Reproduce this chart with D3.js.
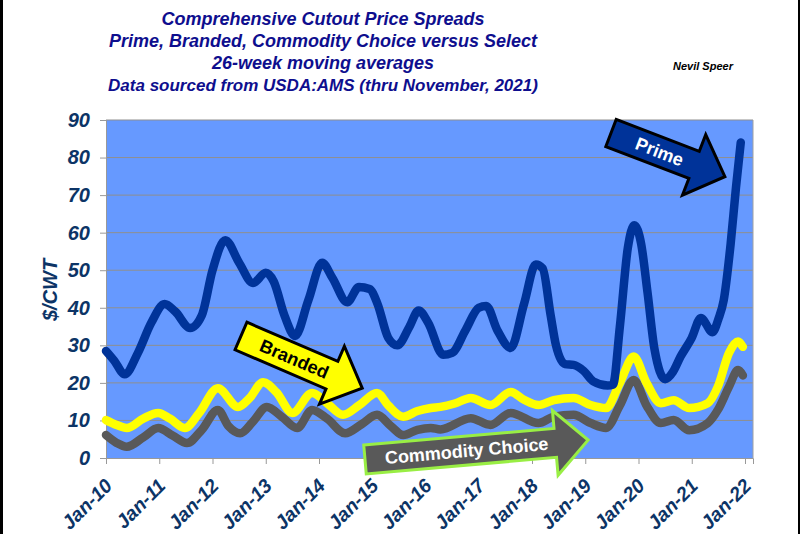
<!DOCTYPE html>
<html>
<head>
<meta charset="utf-8">
<script src="https://cdn.jsdelivr.net/npm/d3@7"></script>
<style>
body{margin:0;background:#fff;}
text{font-family:"Liberation Sans",Arial,sans-serif;font-weight:bold;font-style:italic;}
</style>
</head>
<body>
<div id="chart"></div>
<script>
// 26-week moving average spreads vs Select, [decimal year, $/cwt]
var prime = [[2010.00,28.5],[2010.15,26],[2010.35,22.3],[2010.6,28],[2010.85,36],[2011.1,41],[2011.3,39],
  [2011.58,34.6],[2011.8,38],[2012.0,50],[2012.24,58],[2012.5,52],[2012.76,46.6],[2013.0,49.3],[2013.15,47],
  [2013.35,38],[2013.55,32.5],[2013.8,42],[2014.06,52],[2014.25,48],[2014.53,41.5],[2014.75,45.5],[2014.95,45],
  [2015.1,41],[2015.3,32],[2015.47,30],[2015.7,35],[2015.87,39.3],[2016.05,36],[2016.33,27.5],[2016.5,28],
  [2016.75,34],[2017.0,40],[2017.14,40.5],[2017.35,34],[2017.6,29.3],[2017.85,41],[2018.07,51.5],[2018.2,50.5],
  [2018.35,38],[2018.45,30],[2018.62,25],[2018.78,24.8],[2018.97,23.2],[2019.15,20.4],[2019.42,19.3],[2019.52,19.5],
  [2019.65,35],[2019.8,56],[2019.92,62],[2020.05,57],[2020.17,44],[2020.3,29],[2020.5,21],[2020.65,23],
  [2020.79,27],[2021.0,32],[2021.17,37.3],[2021.39,33.5],[2021.5,37],[2021.6,42],[2021.73,57],[2021.83,72],[2021.92,84]];

var branded = [[2010.0,10.1],[2010.2,8.8],[2010.39,8],[2010.7,10.5],[2010.98,12],[2011.2,10.5],[2011.48,8],
  [2011.75,12],[2012.1,18.6],[2012.48,13.6],[2012.7,16],[2012.95,20.2],[2013.2,17.5],[2013.5,12],[2013.87,17.3],
  [2014.15,14.6],[2014.45,11.5],[2014.75,14],[2015.09,17.3],[2015.3,14],[2015.58,11],[2015.85,12.5],[2016.1,13.3],
  [2016.28,13.6],[2016.55,14.5],[2016.85,16],[2017.22,14.1],[2017.6,17.6],[2017.85,15.5],[2018.12,14.1],[2018.41,15.4],
  [2018.78,16],[2019.1,14.1],[2019.39,13.3],[2019.65,20],[2019.91,27],[2020.15,20],[2020.42,14.6],[2020.66,15.4],
  [2020.95,13.3],[2021.3,14.6],[2021.49,19],[2021.7,28],[2021.87,31],[2021.96,29.6]];

var commodity = [[2010.0,6.1],[2010.2,4],[2010.39,3],[2010.7,5.5],[2010.98,8],[2011.25,6],[2011.52,4],
  [2011.8,7.5],[2012.1,12.8],[2012.3,8.5],[2012.52,6.6],[2012.75,9.5],[2013.02,13.6],[2013.3,11],[2013.59,8],
  [2013.87,12.8],[2014.15,10.5],[2014.49,6.6],[2014.8,9],[2015.09,11.5],[2015.35,8.5],[2015.58,6.1],[2015.85,7.5],
  [2016.1,8],[2016.28,7.6],[2016.85,10.6],[2017.22,8.8],[2017.6,12],[2018.12,9.3],[2018.41,11],[2018.78,11.5],
  [2019.1,9.3],[2019.39,8],[2019.65,14],[2019.91,20.8],[2020.15,14],[2020.42,9.3],[2020.66,10.1],[2020.95,7.4],
  [2021.3,9.3],[2021.49,12.8],[2021.7,19],[2021.87,23.4],[2021.96,22]];

var yTicks = [0,10,20,30,40,50,60,70,80,90];
var xTickYears = [2010,2011,2012,2013,2014,2015,2016,2017,2018,2019,2020,2021,2022];
var xTickLabels = ["Jan-10","Jan-11","Jan-12","Jan-13","Jan-14","Jan-15","Jan-16","Jan-17","Jan-18","Jan-19","Jan-20","Jan-21","Jan-22"];
var titleLines = ["Comprehensive Cutout Price Spreads","Prime, Branded, Commodity Choice versus Select","26-week moving averages","Data sourced from USDA:AMS (thru November, 2021)"];

var W = 800, H = 534;
var plot = {left:106, right:753, top:120, bottom:458};

var svg = d3.select("#chart").append("svg")
  .attr("width", W).attr("height", H);

svg.append("rect").attr("width", W).attr("height", H).attr("fill", "#fff");
// black edges of the slide
svg.append("rect").attr("x", 0).attr("y", 0).attr("width", 3).attr("height", H).attr("fill", "#000");
svg.append("rect").attr("x", 798).attr("y", 0).attr("width", 2).attr("height", H).attr("fill", "#000");

var x = d3.scaleLinear().domain([2010, 2022.15]).range([plot.left, plot.right]);
var y = d3.scaleLinear().domain([0, 90]).range([plot.bottom, plot.top]);

// plot background
svg.append("rect")
  .attr("x", plot.left).attr("y", plot.top)
  .attr("width", plot.right - plot.left).attr("height", plot.bottom - plot.top)
  .attr("fill", "#6699ff");

// gridlines
svg.append("g").selectAll("line")
  .data(yTicks.slice(1))
  .enter().append("line")
  .attr("x1", plot.left).attr("x2", plot.right)
  .attr("y1", function(d){ return y(d); }).attr("y2", function(d){ return y(d); })
  .attr("stroke", "#8f8f8f").attr("stroke-width", 1);

svg.append("line")
  .attr("x1", plot.right).attr("x2", plot.right).attr("y1", plot.top).attr("y2", plot.bottom)
  .attr("stroke", "#a0a0a0");

// Y axis
var yAxis = svg.append("g")
  .attr("transform", "translate(" + plot.left + ",0)")
  .call(d3.axisLeft(y).tickValues(yTicks).tickSize(6).tickPadding(10));
yAxis.select(".domain").attr("stroke", "#999");
yAxis.selectAll(".tick line").attr("stroke", "#999");
yAxis.selectAll(".tick text")
  .attr("fill", "#0c3466").style("font-size", "20px")
  .style("font-family", "'Liberation Sans',Arial,sans-serif")
  .style("font-weight", "bold").style("font-style", "italic");

// X axis
var xAxis = svg.append("g")
  .attr("transform", "translate(0," + plot.bottom + ")")
  .call(d3.axisBottom(x).tickValues(xTickYears).tickSize(6)
    .tickFormat(function(d, i){ return xTickLabels[i]; }));
xAxis.select(".domain").attr("stroke", "#999");
xAxis.selectAll(".tick line").attr("stroke", "#999");
xAxis.selectAll(".tick text")
  .attr("fill", "#0c3466").style("font-size", "19.5px")
  .style("font-family", "'Liberation Sans',Arial,sans-serif")
  .style("font-weight", "bold").style("font-style", "italic")
  .attr("text-anchor", "end")
  .attr("dy", null).attr("y", null)
  .attr("transform", "translate(7,29) rotate(-45)");

// y axis title
svg.append("text")
  .attr("transform", "translate(57,290) rotate(-90)")
  .attr("text-anchor", "middle")
  .attr("fill", "#0c3466").style("font-size", "20px")
  .text("$/CWT");

// lines
var line = d3.line()
  .x(function(d){ return x(d[0]); })
  .y(function(d){ return y(d[1]); })
  .curve(d3.curveMonotoneX);

var series = [
  {data: commodity, color: "#595959"},
  {data: branded, color: "#ffff00"},
  {data: prime, color: "#003399"}
];
svg.append("g").selectAll("path")
  .data(series)
  .enter().append("path")
  .attr("d", function(d){ return line(d.data); })
  .attr("fill", "none")
  .attr("stroke", function(d){ return d.color; })
  .attr("stroke-width", 8.5)
  .attr("stroke-linecap", "round")
  .attr("stroke-linejoin", "round");

// block arrows with labels
function arrow(cx, cy, angle, len, w, hw, hl, fill, stroke, label, labelColor, labelX) {
  var g = svg.append("g").attr("transform", "translate(" + cx + "," + cy + ") rotate(" + angle + ")");
  var p = [[0,-w/2],[len-hl,-w/2],[len-hl,-hw/2],[len,0],[len-hl,hw/2],[len-hl,w/2],[0,w/2]];
  g.append("path")
    .attr("d", "M" + p.join("L") + "Z")
    .attr("fill", fill).attr("stroke", stroke).attr("stroke-width", 3)
    .attr("stroke-linejoin", "miter");
  g.append("text")
    .attr("x", labelX).attr("y", 0).attr("dy", "0.35em")
    .attr("text-anchor", "middle")
    .attr("fill", labelColor)
    .style("font-size", "18px").style("font-style", "normal")
    .text(label);
}
arrow(611, 133, 21, 122, 29, 65, 33, "#003399", "#000", "Prime", "#fff", 52);
arrow(241, 336, 23.3, 132, 30, 63, 33, "#ffff00", "#000", "Branded", "#000", 58);
arrow(365, 459.5, -5, 224, 29, 65, 33, "#595959", "#99ee44", "Commodity Choice", "#fff", 102);

// title
svg.append("g").selectAll("text")
  .data(titleLines)
  .enter().append("text")
  .attr("x", 323)
  .attr("y", function(d, i){ return 25 + i * 22; })
  .attr("text-anchor", "middle")
  .attr("fill", "#0e0e8e")
  .style("font-size", function(d, i){ return i === 3 ? "17px" : "18px"; })
  .text(function(d){ return d; });

svg.append("text")
  .attr("x", 673).attr("y", 70)
  .attr("fill", "#000").style("font-size", "11px")
  .text("Nevil Speer");
</script>
</body>
</html>
